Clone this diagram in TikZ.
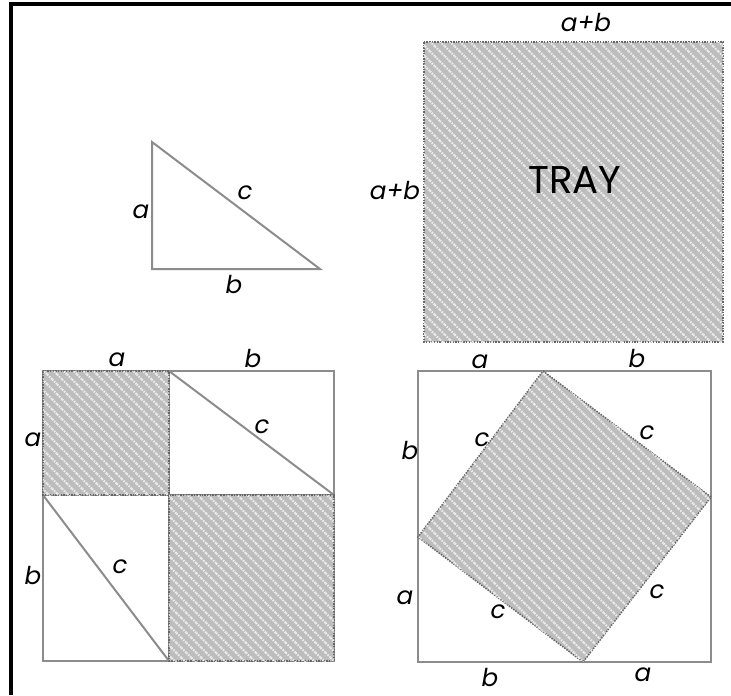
\documentclass[tikz,border=0pt]{standalone}
\usepackage{fontspec}
\setsansfont{Poppins}
\usetikzlibrary{patterns.meta}
\colorlet{edgegray}{black!45}
\colorlet{hatchgray}{gray!52}

\begin{document}
\begin{tikzpicture}[x=0.3mm, y=-0.3mm,
  edge/.style={draw=edgegray, line width=0.6mm, line join=miter},
  hatched/.style={fill=hatchgray, draw=black!60, densely dotted, line width=0.45mm,
    postaction={pattern={Lines[angle=-45, distance=6pt, line width=1.8pt]}, pattern color=gray!15}},
  lbl/.style={font=\sffamily\itshape\fontsize{21}{21}\selectfont, inner sep=0pt}]
  \useasboundingbox (0,0) rectangle (731,695);
  % frame on two sides
  \draw[line width=1.05mm] (11,695) -- (11,4) -- (731,4);
  % the right triangle
  \begin{scope}[shift={(152,142)}]
    \draw[edge] (0,0) -- (0,127) -- (168,127) -- cycle;
    \node[lbl] (tri-a) at (-11,70) {a};
    \node[lbl] (tri-c) at (93,51) {c};
    \node[lbl] (tri-b) at (82,143) {b};
  \end{scope}
  % the tray
  \begin{scope}[shift={(424,42)}]
    \path[hatched] (0,0) rectangle (299,300);
    \node[font=\sffamily\fontsize{33}{33}\selectfont, inner sep=0pt] (tray) at (151,138) {TRAY};
    \node[lbl] (tray-top) at (162,-19) {a+b};
    \node[lbl] (tray-left) at (-29,149) {a+b};
  \end{scope}
  % two squares and four triangles
  \begin{scope}[shift={(43,371)}]
    \draw[edge] (0,0) rectangle (291,290);
    \draw[edge] (126,0) -- (126,290) (0,124) -- (291,124);
    \draw[edge] (126,0) -- (291,124) (0,124) -- (126,290);
    \path[hatched] (0,0) rectangle (126,124);
    \path[hatched] (126,124) rectangle (291,290);
    \node[lbl] (sq-top-a) at (74,-11) {a};
    \node[lbl] (sq-top-b) at (210,-13) {b};
    \node[lbl] (sq-left-a) at (-10,69) {a};
    \node[lbl] (sq-left-b) at (-10,204) {b};
    \node[lbl] (sq-c1) at (219,56) {c};
    \node[lbl] (sq-c2) at (77,196) {c};
  \end{scope}
  % tilted square and four triangles
  \begin{scope}[shift={(418,371)}]
    \draw[edge] (0,0) rectangle (293,291);
    \path[hatched] (125,0) -- (293,126) -- (165,291) -- (0,166) -- cycle;
    \node[lbl] (tilt-top-a) at (62,-9) {a};
    \node[lbl] (tilt-top-b) at (219,-13) {b};
    \node[lbl] (tilt-left-b) at (-8,79) {b};
    \node[lbl] (tilt-left-a) at (-13,227) {a};
    \node[lbl] (tilt-bot-b) at (72,306) {b};
    \node[lbl] (tilt-bot-a) at (225,304) {a};
    \node[lbl] (tilt-c1) at (64,69) {c};
    \node[lbl] (tilt-c2) at (229,62) {c};
    \node[lbl] (tilt-c3) at (80,241) {c};
    \node[lbl] (tilt-c4) at (239,221) {c};
  \end{scope}
\end{tikzpicture}
\end{document}
